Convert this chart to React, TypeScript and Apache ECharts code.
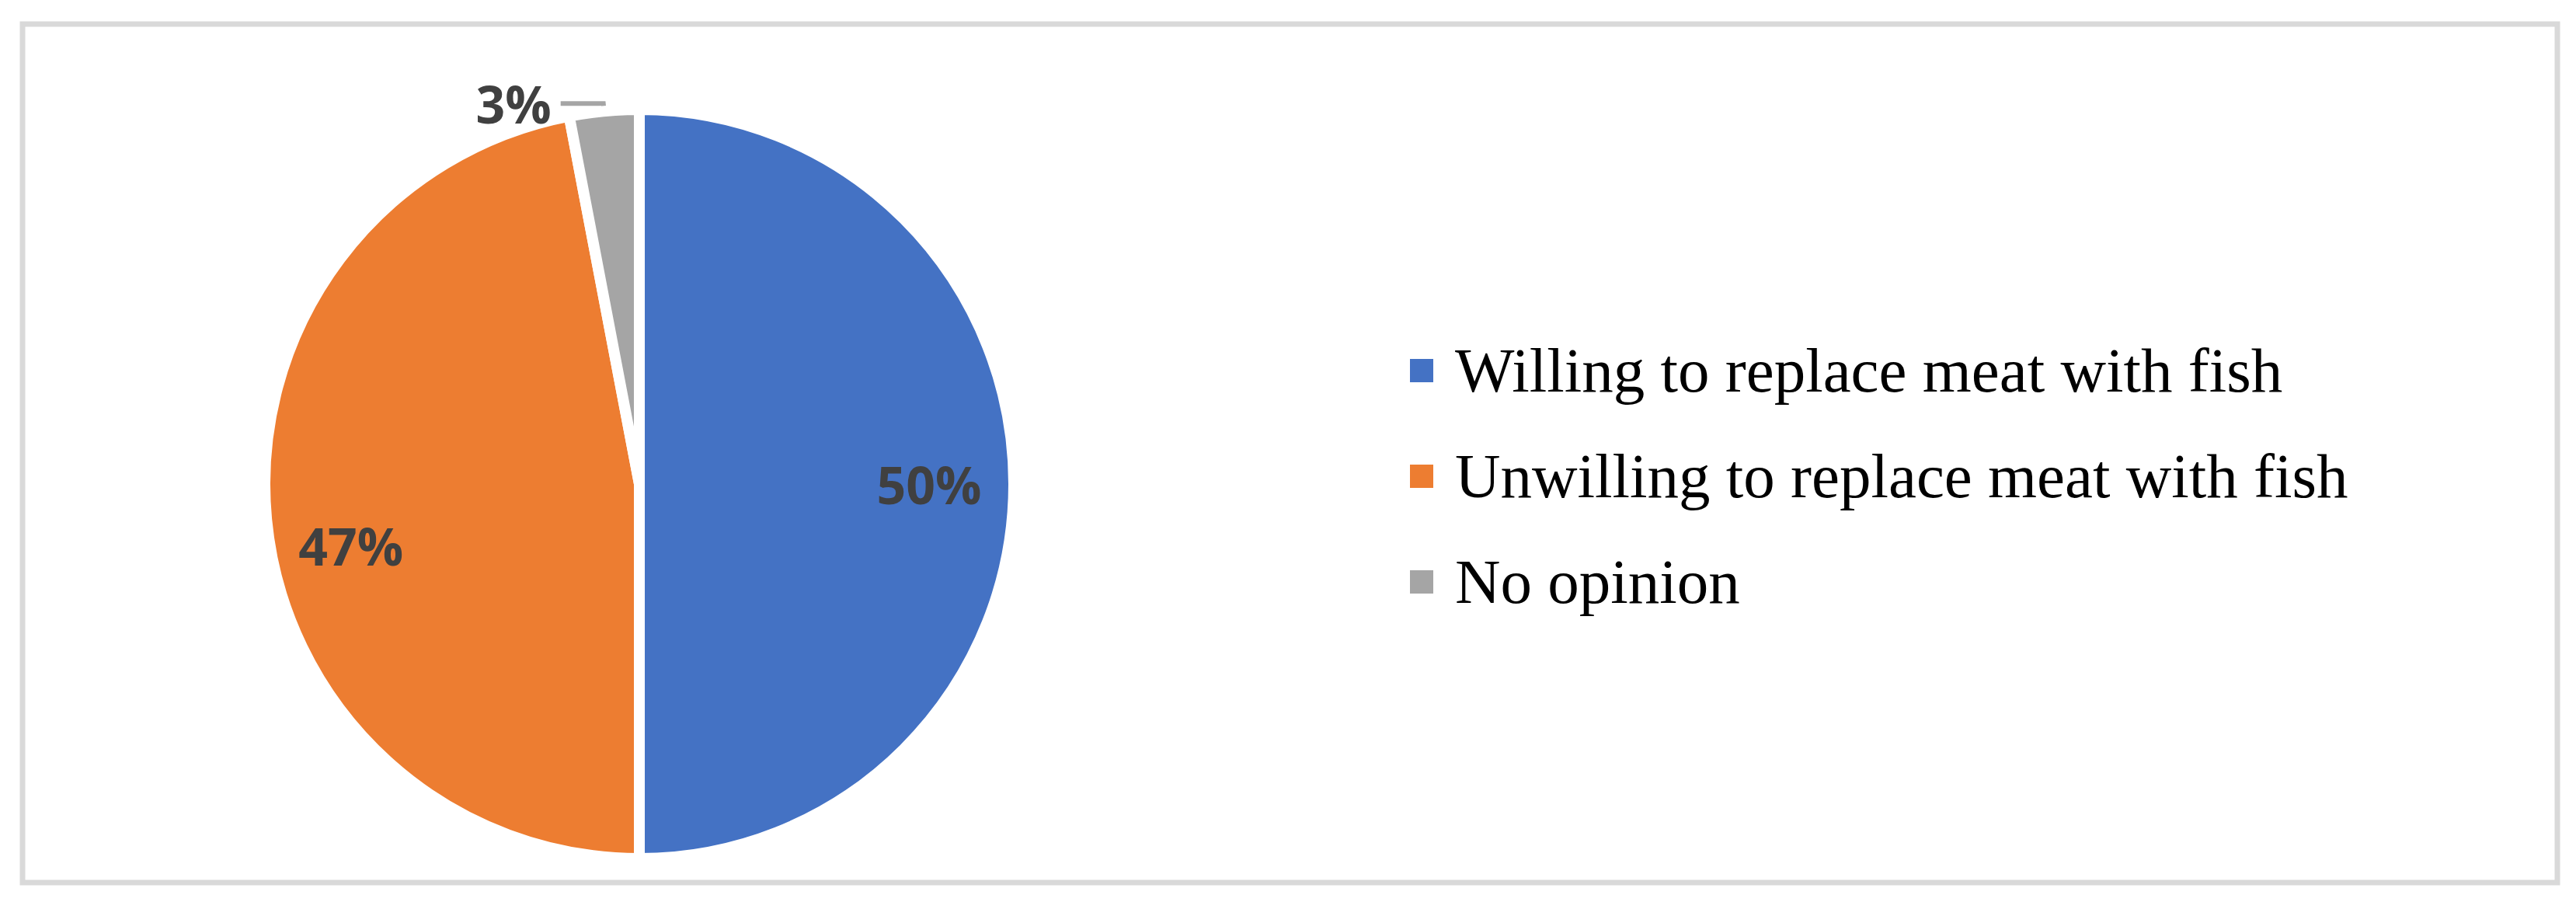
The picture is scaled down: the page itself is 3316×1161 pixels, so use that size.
import React, { useEffect, useRef } from "react";
import * as echarts from "echarts";

const categories = [
  "Willing to replace meat with fish",
  "Unwilling to replace meat with fish",
  "No opinion",
];
const values = [50, 47, 3];
const colors = ["#4472C4", "#ED7D31", "#A5A5A5"];
const labelInside = [true, true, false];

export default function App() {
  const ref = useRef<HTMLDivElement>(null);
  useEffect(() => {
    const chart = echarts.init(ref.current!, null, { renderer: "svg" });
    const labelFont = {
      fontFamily: "'Open Sans', sans-serif",
      fontWeight: "bold",
      fontSize: 66,
      color: "#404040",
    };
    chart.setOption({
      animation: false,
      backgroundColor: "#ffffff",
      graphic: [
        {
          type: "rect",
          silent: true,
          shape: { x: 29, y: 31, width: 3263, height: 1105 },
          style: { fill: "none", stroke: "#D9D9D9", lineWidth: 7 },
        },
      ],
      legend: {
        orient: "vertical",
        left: 1813,
        top: 436,
        padding: 0,
        itemWidth: 32,
        itemHeight: 32,
        itemGap: 54,
        icon: "rect",
        selectedMode: false,
        data: categories.map((n, i) => ({ name: n, itemStyle: { color: colors[i] } })),
        textStyle: {
          fontFamily: "'Liberation Serif', serif",
          fontSize: 81,
          lineHeight: 82,
          color: "#000000",
          padding: [0, 0, 0, 22],
        },
      },
      series: [
        {
          type: "pie",
          center: [823, 623],
          radius: [0, 482],
          startAngle: 90,
          clockwise: true,
          silent: true,
          emphasis: { disabled: true },
          itemStyle: { borderColor: "#ffffff", borderWidth: 14 },
          label: {
            position: "outside",
            formatter: "{c}%",
            distanceToLabelLine: 12,
            ...labelFont,
          },
          labelLine: {
            length: 10,
            length2: 55,
            lineStyle: { width: 6, color: "#A5A5A5" },
          },
          data: categories.map((n, i) => ({
            name: n,
            value: values[i],
            itemStyle: { color: colors[i] },
            label: { show: !labelInside[i] },
            labelLine: { show: !labelInside[i] },
          })),
        },
        {
          type: "pie",
          center: [823, 623],
          radius: [0, 740],
          startAngle: 90,
          clockwise: true,
          silent: true,
          emphasis: { disabled: true },
          itemStyle: { color: "rgba(0,0,0,0)", borderWidth: 0 },
          label: { position: "inside", formatter: "{c}%", ...labelFont },
          labelLine: { show: false },
          labelLayout: (p: any) => (p.dataIndex === 1 ? { dy: 44 } : {}),
          data: categories.map((n, i) => ({
            name: n,
            value: values[i],
            label: { show: labelInside[i] },
          })),
        },
      ],
    });
    return () => chart.dispose();
  }, []);
  return (
    <div
      ref={ref}
      style={{ position: "absolute", left: 0, top: 0, width: 3316, height: 1161 }}
    />
  );
}
